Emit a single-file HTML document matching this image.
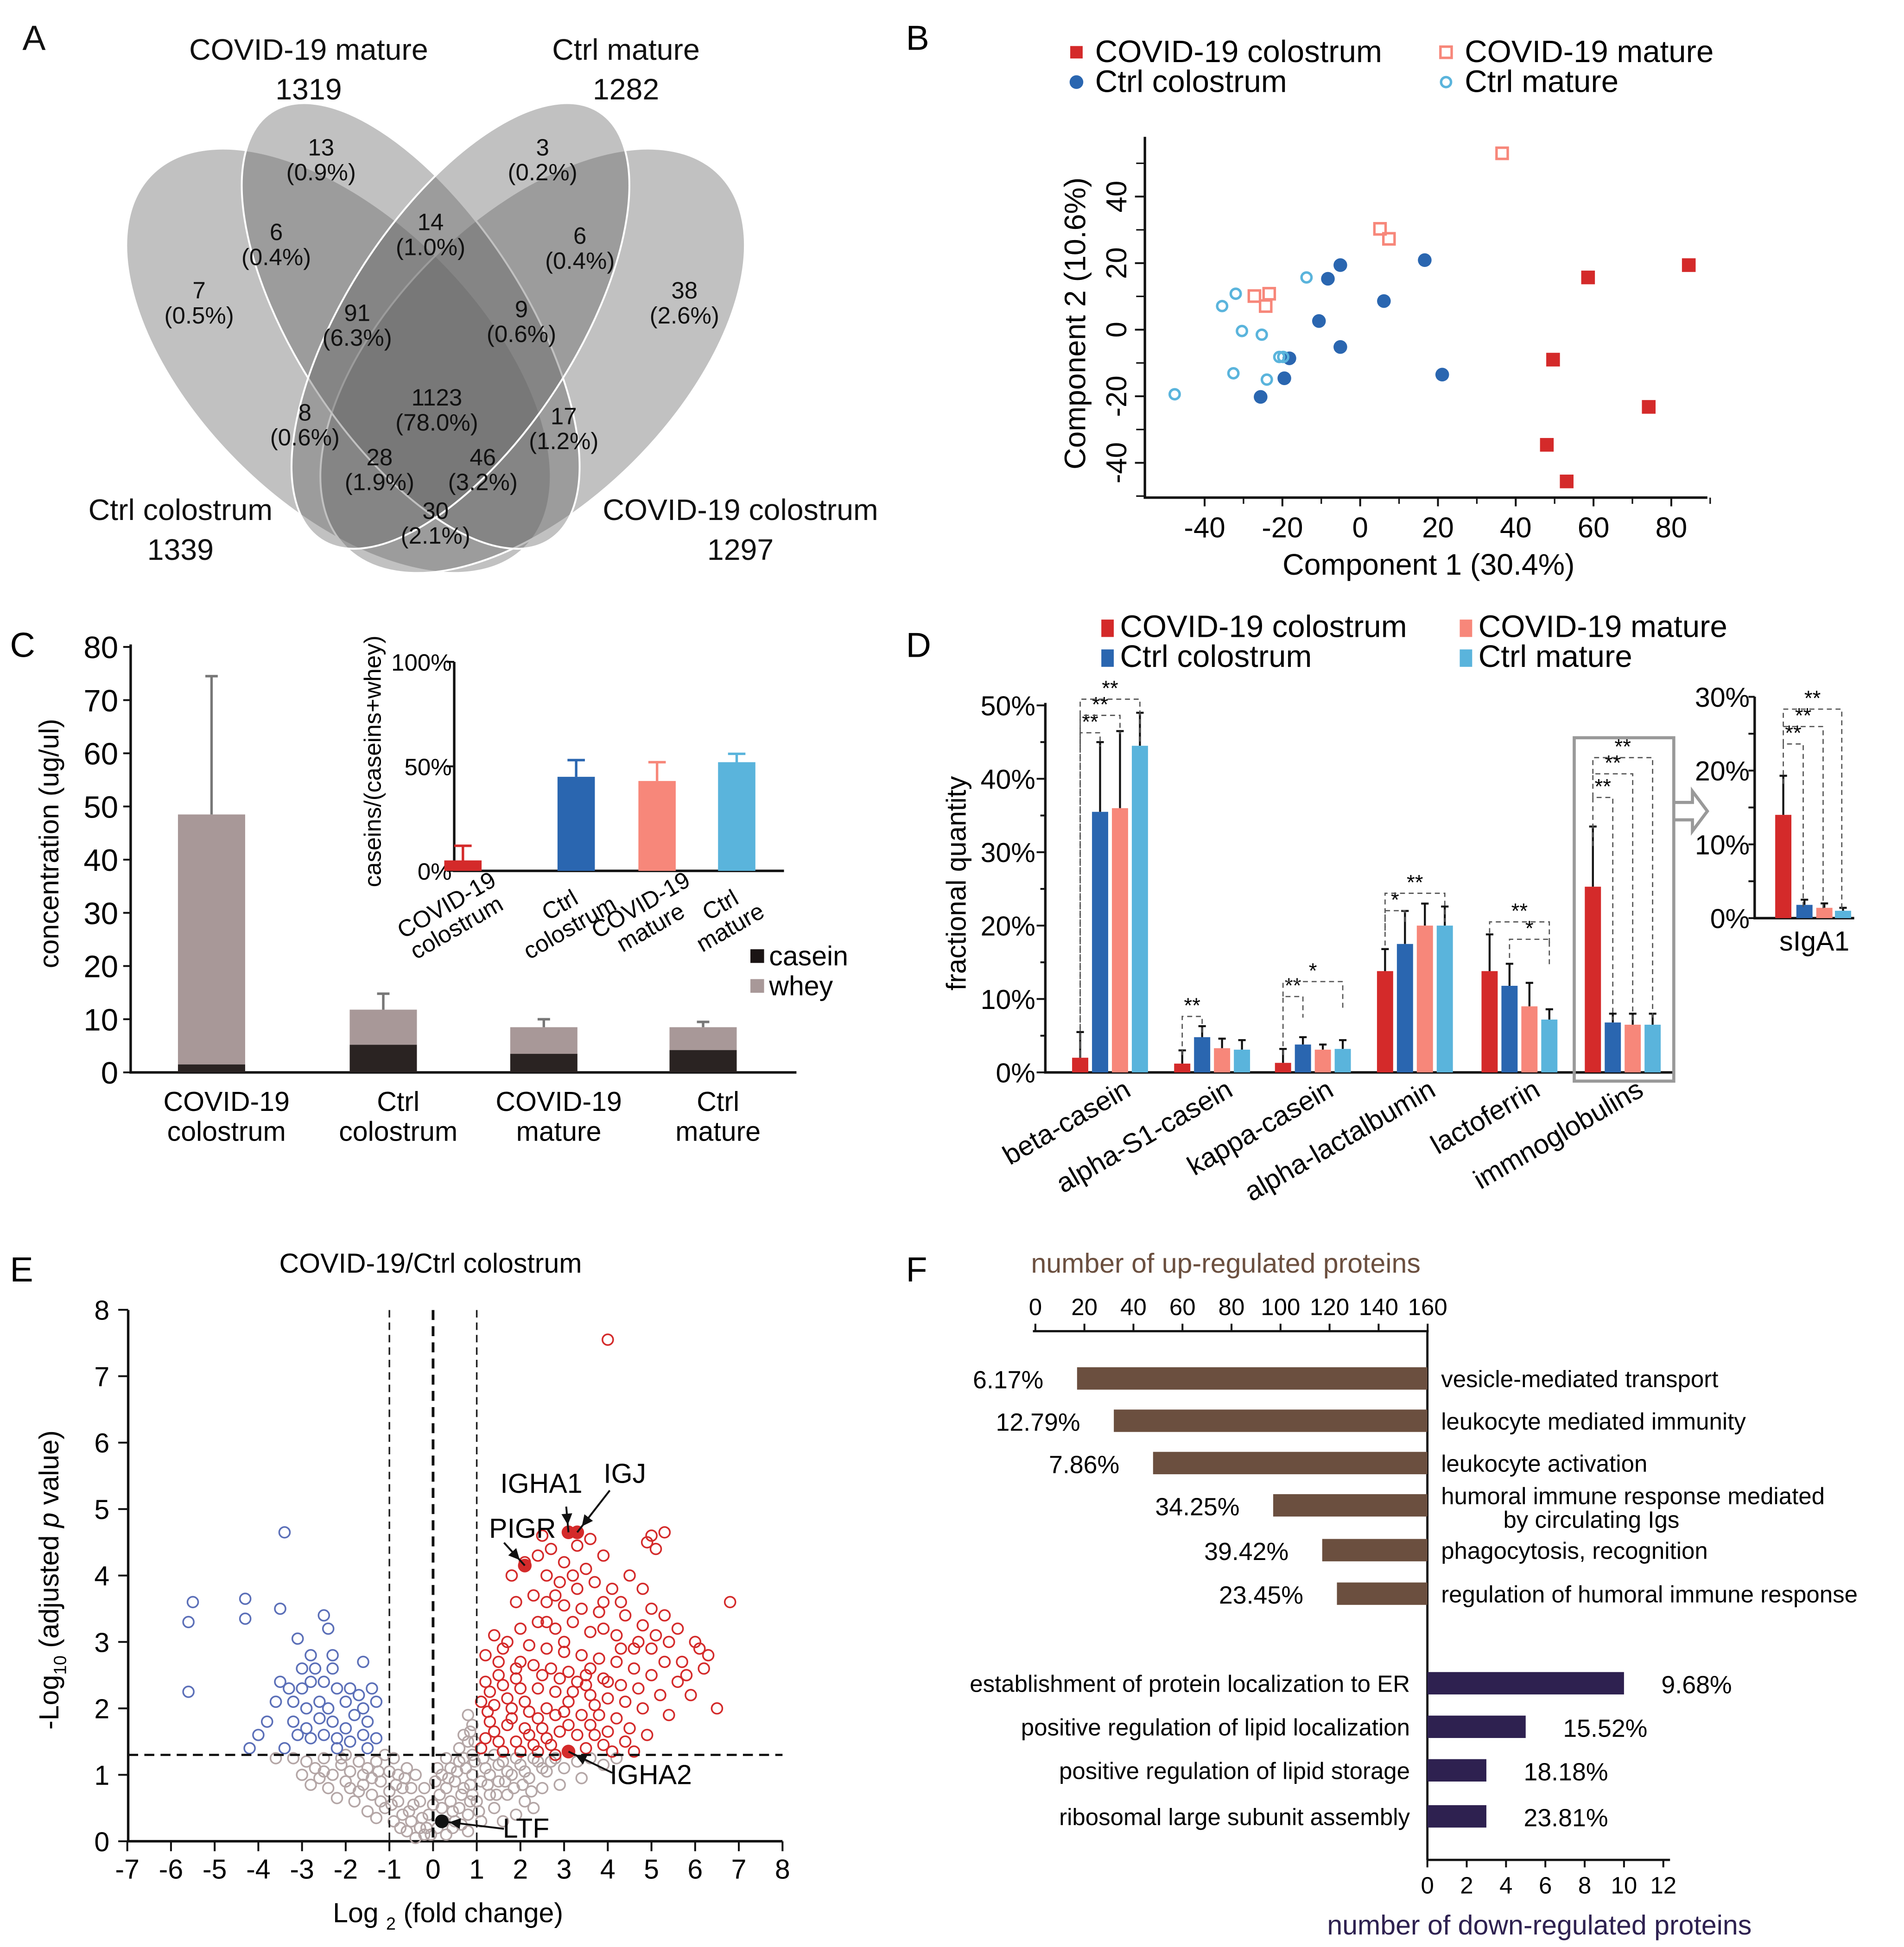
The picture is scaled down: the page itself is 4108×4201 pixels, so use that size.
<!DOCTYPE html>
<html><head><meta charset="utf-8">
<style>
html,body{margin:0;padding:0;background:#fff;}
svg{display:block;font-family:"Liberation Sans",Arial,sans-serif;}
</style></head>
<body>
<svg id="fig" width="4108" height="4201" viewBox="0 0 1530 1565" preserveAspectRatio="none">
<rect x="0" y="0" width="1530" height="1565" fill="#fff"/>
<!-- Panel A Venn -->
<g font-size="19" text-anchor="middle" fill="#111">
<text x="18" y="40" font-size="28" text-anchor="start">A</text>
<g fill="#646464" fill-opacity="0.4" stroke="#fff" stroke-width="1.5">
<ellipse cx="272" cy="290" rx="212" ry="115" transform="rotate(45 272 290)"/>
<ellipse cx="428" cy="290" rx="212" ry="115" transform="rotate(-45 428 290)"/>
<ellipse cx="330" cy="262" rx="205" ry="92" transform="rotate(57 330 262)"/>
<ellipse cx="370" cy="262" rx="205" ry="92" transform="rotate(-57 370 262)"/>
</g>
<g font-size="24">
<text x="248" y="48">COVID-19 mature</text><text x="248" y="80">1319</text>
<text x="503" y="48">Ctrl mature</text><text x="503" y="80">1282</text>
<text x="145" y="418">Ctrl colostrum</text><text x="145" y="450">1339</text>
<text x="595" y="418">COVID-19 colostrum</text><text x="595" y="450">1297</text>
</g>
<text x="258" y="125">13</text><text x="258" y="145">(0.9%)</text>
<text x="436" y="125">3</text><text x="436" y="145">(0.2%)</text>
<text x="222" y="193">6</text><text x="222" y="213">(0.4%)</text>
<text x="346" y="185">14</text><text x="346" y="205">(1.0%)</text>
<text x="466" y="196">6</text><text x="466" y="216">(0.4%)</text>
<text x="160" y="240">7</text><text x="160" y="260">(0.5%)</text>
<text x="287" y="258">91</text><text x="287" y="278">(6.3%)</text>
<text x="419" y="255">9</text><text x="419" y="275">(0.6%)</text>
<text x="550" y="240">38</text><text x="550" y="260">(2.6%)</text>
<text x="351" y="326">1123</text><text x="351" y="346">(78.0%)</text>
<text x="245" y="338">8</text><text x="245" y="358">(0.6%)</text>
<text x="453" y="341">17</text><text x="453" y="361">(1.2%)</text>
<text x="305" y="374">28</text><text x="305" y="394">(1.9%)</text>
<text x="388" y="374">46</text><text x="388" y="394">(3.2%)</text>
<text x="350" y="417">30</text><text x="350" y="437">(2.1%)</text>
</g>

<g id="panelB"></g>
<g id="panelC"></g>
<g id="panelD"></g>
<g id="panelE"></g>
<g id="panelF"></g>
</svg>
<script>
const NS=document.getElementById('fig').namespaceURI;
function mk(p,tag,a,txt){const e=document.createElementNS(NS,tag);for(const k in a)e.setAttribute(k,a[k]);if(txt!==undefined)e.textContent=txt;p.appendChild(e);return e;}
const RED='#d42a2a',BLUE='#2a66b0',SAL='#f7877a',LB='#5ab4dc';

// ---------- Panel B data ----------
const bCovidCol=[[84.5,19.4],[58.6,15.7],[49.6,-9],[74.2,-23.2],[48,-34.6],[53.1,-45.6]];
const bCovidMat=[[36.5,53],[5.1,30.3],[7.4,27.3],[-27.2,10.1],[-23.4,10.8],[-24.3,7.1]];
const bCtrlCol=[[16.6,20.9],[-5.1,19.4],[-8.3,15.3],[6.1,8.6],[-10.6,2.6],[-5.1,-5.2],[-18.2,-8.6],[-19.5,-14.6],[21.1,-13.5],[-25.6,-20.2]];
const bCtrlMat=[[-13.8,15.7],[-32,10.8],[-35.5,7.1],[-30.4,-0.4],[-25.3,-1.5],[-20.8,-8.2],[-19.8,-8.2],[-32.6,-13.1],[-24,-15],[-47.7,-19.4]];
const bXTicks=[-40,-20,0,20,40,60,80];
const bYTicks=[-40,-20,0,20,40];
{
const g=document.getElementById('panelB');
const X=v=>1093+v*3.125, Y=v=>265-v*2.675;
let t=mk(g,'text',{x:728,y:40,'font-size':28},'B');


let ax=mk(g,'path',{d:'M920 110 V400 H1372',stroke:'#111','stroke-width':2,fill:'none'});


bXTicks.forEach(v=>{mk(g,'line',{x1:X(v),x2:X(v),y1:400,y2:407,stroke:'#111','stroke-width':1.5});
const e=mk(g,'text',{x:X(v),y:432,'font-size':23,'text-anchor':'middle'},v);

});
for(let v=-50;v<=55;v+=10){if(v%20)mk(g,'line',{x1:913,x2:920,y1:Y(v),y2:Y(v),stroke:'#111','stroke-width':1.2});}
for(let v=-30;v<=90;v+=10){if(v%20)mk(g,'line',{x1:X(v),x2:X(v),y1:400,y2:405,stroke:'#111','stroke-width':1.2});}
bYTicks.forEach(v=>{mk(g,'line',{x1:912,x2:920,y1:Y(v),y2:Y(v),stroke:'#111','stroke-width':1.5});
const e=mk(g,'text',{x:0,y:0,'font-size':23,'text-anchor':'middle',transform:`translate(905 ${Y(v)}) rotate(-90)`},v);

});
let xl=mk(g,'text',{x:1148,y:462,'font-size':24,'text-anchor':'middle'},'Component 1 (30.4%)');


let yl=mk(g,'text',{x:0,y:0,'font-size':24,'text-anchor':'middle',transform:'translate(872 260) rotate(-90)'},'Component 2 (10.6%)');


bCovidCol.forEach(p=>{const e=mk(g,'rect',{x:X(p[0])-5.5,y:Y(p[1])-5.5,width:11,height:11,fill:RED});

});
bCovidMat.forEach(p=>{const e=mk(g,'rect',{x:X(p[0])-4.5,y:Y(p[1])-4.5,width:9,height:9,fill:'none',stroke:SAL,'stroke-width':2});

});
bCtrlCol.forEach(p=>{const e=mk(g,'circle',{cx:X(p[0]),cy:Y(p[1]),r:5.5,fill:BLUE});

});
bCtrlMat.forEach(p=>{const e=mk(g,'circle',{cx:X(p[0]),cy:Y(p[1]),r:4,fill:'none',stroke:LB,'stroke-width':2});

});
const leg=[[865,42,'sq',RED,'COVID-19 colostrum'],[1162,42,'osq',SAL,'COVID-19 mature'],[865,66,'c',BLUE,'Ctrl colostrum'],[1162,66,'oc',LB,'Ctrl mature']];
leg.forEach(l=>{let m;
if(l[2]==='sq')m=mk(g,'rect',{x:l[0]-5,y:l[1]-5,width:10,height:10,fill:l[3]});
else if(l[2]==='osq')m=mk(g,'rect',{x:l[0]-4.5,y:l[1]-4.5,width:9,height:9,fill:'none',stroke:l[3],'stroke-width':2});
else if(l[2]==='c')m=mk(g,'circle',{cx:l[0],cy:l[1],r:5.5,fill:l[3]});
else m=mk(g,'circle',{cx:l[0],cy:l[1],r:4,fill:'none',stroke:l[3],'stroke-width':2});
const e=mk(g,'text',{x:l[0]+15,y:l[1]+8,'font-size':25},l[4]);

});
}

// ---------- Panel C ----------
const cCats=[['COVID-19','colostrum'],['Ctrl','colostrum'],['COVID-19','mature'],['Ctrl','mature']];
const cCasein=[1.5,5.2,3.5,4.2];
const cTotal=[48.5,11.8,8.5,8.5];
const cErr=[74.5,14.8,10,9.5];
const cYTicks=[0,10,20,30,40,50,60,70,80];
const iVals=[5,45,43,52];
const iErr=[12,53,52,56];
const iTicks=[0,50,100];
const iColors=[RED,BLUE,SAL,LB];
{
const g=document.getElementById('panelC');
const Y=v=>862-v*4.275, cx=[170,308,437,565];
let t=mk(g,'text',{x:8,y:528,'font-size':28},'C');


mk(g,'path',{d:'M105 518 V862 H640',stroke:'#111','stroke-width':2,fill:'none'});
cYTicks.forEach(v=>{mk(g,'line',{x1:99,x2:105,y1:Y(v),y2:Y(v),stroke:'#111','stroke-width':1.5});
const e=mk(g,'text',{x:95,y:Y(v)+9,'font-size':25,'text-anchor':'end'},v);

});
let yl=mk(g,'text',{x:0,y:0,'font-size':22,'text-anchor':'middle',transform:'translate(47 678) rotate(-90)'},'concentration (ug/ul)');


cCats.forEach((c,i)=>{const x=cx[i];
mk(g,'line',{x1:x,x2:x,y1:Y(cTotal[i]),y2:Y(cErr[i]),stroke:'#777','stroke-width':2});
mk(g,'line',{x1:x-5,x2:x+5,y1:Y(cErr[i]),y2:Y(cErr[i]),stroke:'#777','stroke-width':2});
const w=mk(g,'rect',{x:x-27,y:Y(cTotal[i]),width:54,height:Y(cCasein[i])-Y(cTotal[i]),fill:'#a89898'});


const cs=mk(g,'rect',{x:x-27,y:Y(cCasein[i]),width:54,height:862-Y(cCasein[i]),fill:'#2a2322'});


const e1=mk(g,'text',{x:x+12,y:893,'font-size':22,'text-anchor':'middle'},c[0]);


mk(g,'text',{x:x+12,y:917,'font-size':22,'text-anchor':'middle'},c[1]);});
mk(g,'rect',{x:603,y:763,width:11,height:11,fill:'#1a1414'});
let l1=mk(g,'text',{x:618,y:776,'font-size':22},'casein');


mk(g,'rect',{x:603,y:787,width:11,height:11,fill:'#a89898'});
let l2=mk(g,'text',{x:618,y:800,'font-size':22},'whey');


// inset
const IY=v=>700-v*1.68, icx=[372,463,528,592];
mk(g,'path',{d:'M365 532 V700 H630',stroke:'#111','stroke-width':2,fill:'none'});
iTicks.forEach(v=>{mk(g,'line',{x1:359,x2:365,y1:IY(v),y2:IY(v),stroke:'#111','stroke-width':1.5});
const e=mk(g,'text',{x:363,y:IY(v)+7,'font-size':19,'text-anchor':'end'},v+'%');

});
let il=mk(g,'text',{x:0,y:0,'font-size':19,'text-anchor':'middle',transform:'translate(306 612) rotate(-90)'},'caseins/(caseins+whey)');


iVals.forEach((v,i)=>{const x=icx[i];
mk(g,'line',{x1:x,x2:x,y1:IY(v),y2:IY(iErr[i]),stroke:iColors[i],'stroke-width':2});
mk(g,'line',{x1:x-7,x2:x+7,y1:IY(iErr[i]),y2:IY(iErr[i]),stroke:iColors[i],'stroke-width':2});
const r=mk(g,'rect',{x:x-15,y:IY(v),width:30,height:700-IY(v),fill:iColors[i]});


const e=mk(g,'text',{x:0,y:0,'font-size':19,'text-anchor':'middle',transform:`translate(${x-10} 733) rotate(-30)`},cCats[i][0]);


mk(g,'text',{x:0,y:0,'font-size':19,'text-anchor':'middle',transform:`translate(${x-2} 751) rotate(-30)`},cCats[i][1]);});
}

// ---------- Panel D ----------
const dCats=['beta-casein','alpha-S1-casein','kappa-casein','alpha-lactalbumin','lactoferrin','immnoglobulins'];
const dCovidCol=[2,1.2,1.3,13.8,13.8,25.3];
const dCtrlCol=[35.5,4.8,3.8,17.5,11.8,6.8];
const dCovidMat=[36,3.3,3.1,20,9,6.5];
const dCtrlMat=[44.5,3.1,3.2,20,7.2,6.5];
const dErrCovidCol=[5.5,3,3.2,16.8,18.8,33.5];
const dErrCtrlCol=[45,6.3,4.8,22,14.8,8];
const dErrCovidMat=[46.5,4.6,3.8,23,12.2,8];
const dErrCtrlMat=[49,4.4,4.4,22.6,8.6,8];
const dYTicks=[0,10,20,30,40,50];
const sVals=[14,1.8,1.4,1];
const sErr=[19.3,2.5,2,1.4];
const sTicks=[0,10,20,30];
{
const g=document.getElementById('panelD');
const Y=v=>862-v*5.9, gc=[892,974,1055,1137,1221,1304];
let t=mk(g,'text',{x:728,y:528,'font-size':28},'D');


mk(g,'path',{d:'M840 565 V862 H1345',stroke:'#111','stroke-width':2,fill:'none'});
for(let v=0;v<=50;v+=5)mk(g,'line',{x1:v%10?836:833,x2:840,y1:Y(v),y2:Y(v),stroke:'#111','stroke-width':1.5});
dYTicks.forEach(v=>{const e=mk(g,'text',{x:832,y:Y(v)+8,'font-size':22,'text-anchor':'end'},v+'%');

});
let yl=mk(g,'text',{x:0,y:0,'font-size':22,'text-anchor':'middle',transform:'translate(776 710) rotate(-90)'},'fractional quantity');


const ser=[[dCovidCol,dErrCovidCol,RED],[dCtrlCol,dErrCtrlCol,BLUE],[dCovidMat,dErrCovidMat,SAL],[dCtrlMat,dErrCtrlMat,LB]];
dCats.forEach((c,i)=>{
ser.forEach((s,j)=>{const x=gc[i]+(j-1.5)*16;
mk(g,'line',{x1:x,x2:x,y1:Y(s[0][i]),y2:Y(s[1][i]),stroke:'#111','stroke-width':1.6});
mk(g,'line',{x1:x-3,x2:x+3,y1:Y(s[1][i]),y2:Y(s[1][i]),stroke:'#111','stroke-width':1.6});
const r=mk(g,'rect',{x:x-6.5,y:Y(s[0][i]),width:13,height:862-Y(s[0][i]),fill:s[2]});

});
const e=mk(g,'text',{x:0,y:0,'font-size':22,'text-anchor':'end',transform:`translate(${gc[i]+18} 880) rotate(-30)`},c);

});
const br=(x1,x2,y,yb1,yb2,lab)=>{mk(g,'path',{d:`M${x1} ${yb1} V${y} H${x2} V${yb2}`,fill:'none',stroke:'#555','stroke-width':1,'stroke-dasharray':'4 3'});
mk(g,'text',{x:(x1+x2)/2,y:y-3,'font-size':17,'text-anchor':'middle'},lab);};
br(868,884,589,850,600,'**');br(868,900,575,600,590,'**');br(868,916,562,848,597,'**');
br(950,966,817,848,832,'**');
br(1031,1047,801,848,818,'**');br(1031,1079,789,801,810,'*');
br(1113,1129,732,760,744,'*');br(1113,1161,718,748,741,'**');
br(1197,1245,741,750,760,'**');br(1213,1245,755,770,778,'*');
br(1280,1296,641,680,820,'**');br(1280,1312,622,641,820,'**');br(1280,1328,609,622,820,'**');
mk(g,'rect',{x:1265,y:593,width:80,height:276,fill:'none',stroke:'#999','stroke-width':2.5});
mk(g,'path',{d:'M1345 645 H1360 V636 L1372 652 L1360 668 V659 H1345',fill:'none',stroke:'#999','stroke-width':2.5});
const SY=v=>738-v*5.93, sx=[1433,1450,1466,1481];
mk(g,'path',{d:'M1410 560 V738 H1490',stroke:'#111','stroke-width':2,fill:'none'});
for(let v=0;v<=30;v+=5)mk(g,'line',{x1:1405,x2:1410,y1:SY(v),y2:SY(v),stroke:'#111','stroke-width':1.5});
sTicks.forEach(v=>{const e=mk(g,'text',{x:1406,y:SY(v)+8,'font-size':22,'text-anchor':'end'},v+'%');

});
sVals.forEach((v,i)=>{const x=sx[i];
mk(g,'line',{x1:x,x2:x,y1:SY(v),y2:SY(sErr[i]),stroke:'#111','stroke-width':1.6});
mk(g,'line',{x1:x-3,x2:x+3,y1:SY(sErr[i]),y2:SY(sErr[i]),stroke:'#111','stroke-width':1.6});
const r=mk(g,'rect',{x:x-6.5,y:SY(v),width:13,height:738-SY(v),fill:ser[i][2]});

});
br(1433,1449,598,630,730,'**');br(1433,1465,584,598,730,'**');br(1433,1480,570,584,730,'**');
let sl=mk(g,'text',{x:1458,y:764,'font-size':22,'text-anchor':'middle'},'sIgA1');


const leg=[[890,RED,'COVID-19 colostrum',503],[1178,SAL,'COVID-19 mature',503],[890,BLUE,'Ctrl colostrum',527],[1178,LB,'Ctrl mature',527]];
leg.forEach(l=>{mk(g,'rect',{x:l[0]-5,y:l[3]-5,width:10,height:14,fill:l[1]});
const e=mk(g,'text',{x:l[0]+10,y:l[3]+9,'font-size':25},l[2]);

});
}

// ---------- Panel E ----------
const eDown=[[-3.4,4.65],[-5.5,3.6],[-4.3,3.65],[-5.6,3.3],[-4.3,3.35],[-3.5,3.5],[-2.5,3.4],[-2.4,3.2],[-5.6,2.25],[-3.1,3.05],[-2.8,2.8],[-2.3,2.8],[-3,2.6],[-2.7,2.6],[-2.3,2.6],[-1.6,2.7],[-3.5,2.4],[-3.3,2.3],[-3,2.3],[-2.8,2.4],[-2.5,2.4],[-2.2,2.3],[-1.9,2.3],[-1.7,2.2],[-1.4,2.3],[-3.6,2.1],[-3.2,2.1],[-2.9,2.0],[-2.6,2.1],[-2.4,2.0],[-2,2.1],[-1.6,2],[-1.3,2.1],[-3.8,1.8],[-4.0,1.6],[-3.2,1.8],[-2.9,1.7],[-2.6,1.85],[-2.3,1.8],[-2,1.7],[-1.8,1.9],[-1.5,1.8],[-3.1,1.6],[-2.8,1.55],[-2.5,1.6],[-2.2,1.55],[-1.9,1.5],[-1.6,1.6],[-1.3,1.55],[-4.2,1.4],[-3.4,1.4],[-2.2,1.4],[-1.5,1.4]];
const eNs=[[-3.2,1.25],[-2.9,1.2],[-2.7,1.1],[-2.5,1.25],[-2.3,1.0],[-2.1,1.15],[-1.9,1.05],[-1.7,1.2],[-1.5,1.1],[-1.3,1.2],[-2.8,0.85],[-2.4,0.8],[-2,0.9],[-1.6,0.85],[-1.2,0.9],[-2.2,0.65],[-1.8,0.6],[-1.4,0.7],[-1.0,0.75],[-0.8,0.6],[-1.5,0.45],[-1.1,0.5],[-0.7,0.4],[-0.5,0.3],[-0.9,0.3],[-0.3,0.2],[-0.6,0.15],[-0.2,0.1],[-0.4,0.05],[-1.3,0.35],[-0.8,1.0],[-0.5,0.8],[-0.3,0.6],[-0.1,0.4],[-1.1,1.3],[-0.9,1.25],[-0.6,1.1],[-3.0,1.0],[-2.6,0.95],[-3.6,1.25],[-1.4,0.95],[-2.0,1.3],[-0.4,1.0],[-0.2,0.8],[-0.7,0.8],[-1.7,0.75],[0.1,0.2],[0.3,0.1],[0.5,0.3],[0.2,0.5],[0.4,0.6],[0.6,0.5],[0.8,0.4],[1.0,0.6],[0.7,0.8],[0.5,0.9],[0.3,0.8],[0.9,1.0],[1.1,0.9],[1.3,0.7],[1.5,0.9],[1.2,1.1],[1.6,1.2],[1.8,1.0],[2.0,1.15],[2.2,0.95],[2.4,1.2],[2.6,1.05],[2.8,1.25],[3.0,1.1],[3.3,1.2],[3.6,1.25],[3.9,1.15],[4.2,1.25],[1.4,0.5],[1.7,0.7],[2.1,0.6],[2.5,0.8],[1.9,0.4],[1.1,0.3],[0.8,0.15],[0.6,1.2],[0.9,1.3],[1.4,1.3],[0.4,1.1],[0.2,1.0],[0.7,1.6],[0.8,1.9],[0.9,1.75],[0.95,1.5],[0.6,1.4],[1.6,0.3],[2.3,0.5],[2.9,0.85],[3.4,0.95],[0.15,0.7],[0.05,0.9],
[-1.0,1.05],[-0.85,0.85],[-0.65,0.95],[-0.45,0.55],[-0.25,0.35],[-0.15,0.2],[-0.55,0.45],[-0.75,0.2],[-1.2,0.6],[-1.6,1.0],[-1.9,0.8],[-2.5,1.05],[-2.1,1.25],[-1.25,1.05],[-0.95,0.55],[-0.05,0.1],[0.0,0.55],[0.25,0.3],[0.45,0.45],[0.65,0.7],[0.85,0.6],[0.35,0.95],[0.55,1.05],[0.75,1.1],[0.95,1.2],[1.15,1.25],[1.3,1.0],[1.5,1.15],[1.7,1.05],[1.9,1.25],[2.1,1.05],[2.3,1.25],[2.5,1.1],[2.7,1.2],[1.25,0.85],[1.45,0.7],[1.65,0.9],[1.85,0.8],[2.05,0.85],[2.25,0.75],[0.45,0.2],[0.65,0.25],[0.85,0.85],[1.05,0.45],[0.8,1.5],[0.85,1.65],[0.7,1.25],[0.9,0.7],[0.3,1.25],[0.1,1.1]];
const eUp=[[4.0,7.55],[5.3,4.65],[5.0,4.6],[4.9,4.5],[5.1,4.4],[3.6,4.55],[3.3,4.45],[2.7,4.4],[2.4,4.3],[3.0,4.2],[3.5,4.1],[2.6,4.0],[2.9,3.9],[3.3,3.8],[3.7,3.9],[4.3,3.6],[1.9,3.6],[2.3,3.7],[2.6,3.6],[3.0,3.55],[3.4,3.5],[3.8,3.45],[4.4,3.4],[5.3,3.4],[5.0,3.5],[4.8,3.25],[5.6,3.2],[6.1,2.9],[6.3,2.8],[6.8,3.6],[6.5,2.0],[5.9,2.2],[5.6,2.4],[5.3,2.7],[5.0,2.9],[4.7,3.0],[4.2,3.1],[3.9,3.2],[3.6,3.15],[3.2,3.3],[2.8,3.2],[2.4,3.3],[2.0,3.2],[1.7,3.0],[2.2,2.95],[2.6,2.9],[3.0,2.85],[3.4,2.8],[3.8,2.75],[4.2,2.7],[4.6,2.6],[5.0,2.5],[1.5,2.7],[1.9,2.6],[2.3,2.65],[2.7,2.6],[3.1,2.55],[3.5,2.5],[3.9,2.45],[4.3,2.35],[4.7,2.3],[5.2,2.2],[1.2,2.4],[1.6,2.35],[2.0,2.3],[2.4,2.3],[2.8,2.25],[3.2,2.25],[3.6,2.2],[4.0,2.15],[4.4,2.1],[4.8,2.0],[1.1,2.1],[1.4,2.05],[1.8,2.0],[2.2,1.95],[2.6,2.0],[3.0,1.95],[3.4,1.9],[3.8,1.9],[4.2,1.85],[1.3,1.8],[1.7,1.75],[2.1,1.7],[2.5,1.7],[2.9,1.65],[3.3,1.6],[3.7,1.6],[4.5,1.7],[1.2,1.55],[1.5,1.5],[1.9,1.5],[2.3,1.45],[2.7,1.45],[3.5,1.4],[3.9,1.45],[4.1,1.35],[1.1,1.4],[1.6,1.35],[2.0,1.35],[2.4,1.35],[2.8,1.3],[4.6,1.35],[4.9,1.6],[5.4,1.9],[5.7,2.7],[6.0,3.0],[4.5,4.0],[4.1,3.8],[2.1,4.2],[2.5,4.6],[3.9,4.3],[1.4,3.1],[1.2,2.8],[1.8,4.0],[4.6,2.9],[5.4,3.0],[3.6,2.6],[2.0,2.7],[2.6,3.3],[3.0,3.0],[3.3,2.4],[4.0,2.4],[4.3,2.9],[5.8,2.5],[6.2,2.6],[1.6,2.9],[2.8,3.7],[3.2,4.0],[3.9,3.6],[4.8,3.8],[5.1,3.1],
[1.3,2.25],[1.5,2.5],[1.7,2.15],[1.9,2.45],[2.1,2.1],[2.5,2.5],[2.9,2.45],[3.1,2.1],[3.5,2.35],[3.7,2.05],[2.2,1.6],[2.6,1.55],[3.1,1.75],[1.4,1.65],[1.8,1.85],[2.4,1.85],[2.8,1.9],[3.6,1.75],[4.0,1.65],[4.4,1.5],[1.25,1.95]];
const eHighlight=[['IGHA1',3.1,4.65],['IGJ',3.3,4.65],['PIGR',2.1,4.15],['IGHA2',3.1,1.35],['LTF',0.2,0.3]];
const eXTicks=[-7,-6,-5,-4,-3,-2,-1,0,1,2,3,4,5,6,7,8];
const eYTicks=[0,1,2,3,4,5,6,7,8];
{
const g=document.getElementById('panelE');
const X=v=>348+v*35.1, Y=v=>1480-v*53.4;
let t=mk(g,'text',{x:8,y:1030,'font-size':28},'E');


let tt=mk(g,'text',{x:346,y:1023,'font-size':22,'text-anchor':'middle'},'COVID-19/Ctrl colostrum');


mk(g,'path',{d:`M103 1053 V1480 H${X(8)}`,stroke:'#111','stroke-width':2,fill:'none'});
eXTicks.forEach(v=>{mk(g,'line',{x1:X(v),x2:X(v),y1:1480,y2:1488,stroke:'#111','stroke-width':1.5});
const e=mk(g,'text',{x:X(v),y:1510,'font-size':22,'text-anchor':'middle'},v);

});
eYTicks.forEach(v=>{mk(g,'line',{x1:95,x2:103,y1:Y(v),y2:Y(v),stroke:'#111','stroke-width':1.5});
const e=mk(g,'text',{x:88,y:Y(v)+8,'font-size':22,'text-anchor':'end'},v);

});
const yl=mk(g,'text',{x:0,y:0,'font-size':22,'text-anchor':'middle',transform:'translate(47 1270) rotate(-90)'});


yl.innerHTML='-Log<tspan font-size="14" dy="6">10</tspan><tspan dy="-6"> (adjusted </tspan><tspan font-style="italic">p</tspan> value)';
const xl=mk(g,'text',{x:360,y:1545,'font-size':22,'text-anchor':'middle'});


xl.innerHTML='Log <tspan font-size="14" dy="6">2</tspan><tspan dy="-6"> (fold change)</tspan>';
eNs.forEach(p=>{const c=mk(g,'circle',{cx:X(p[0]),cy:Y(p[1]),r:4.3,fill:'none',stroke:'#b4a6a6','stroke-width':1.3});

});
eDown.forEach(p=>{const c=mk(g,'circle',{cx:X(p[0]),cy:Y(p[1]),r:4.3,fill:'none',stroke:'#5b6fb8','stroke-width':1.3});

});
eUp.forEach(p=>{const c=mk(g,'circle',{cx:X(p[0]),cy:Y(p[1]),r:4.3,fill:'none',stroke:'#d42a2a','stroke-width':1.3});

});
const dash={stroke:'#222','stroke-width':1.3,'stroke-dasharray':'6 4'};
mk(g,'line',Object.assign({x1:X(-1),x2:X(-1),y1:1053,y2:1480},dash));
mk(g,'line',Object.assign({x1:X(1),x2:X(1),y1:1053,y2:1480},dash));
mk(g,'line',{x1:X(0),x2:X(0),y1:1053,y2:1480,stroke:'#111','stroke-width':2.2,'stroke-dasharray':'8 5'});
mk(g,'line',{x1:103,x2:X(8),y1:Y(1.3),y2:Y(1.3),stroke:'#111','stroke-width':1.8,'stroke-dasharray':'8 5'});
const lab={IGHA1:[402,1200,'start'],IGJ:[485,1192,'start'],PIGR:[393,1236,'start'],IGHA2:[490,1434,'start'],LTF:[404,1477,'start']};
const tip={IGHA1:[455,1211],IGJ:[490,1198],PIGR:[405,1240],IGHA2:[492,1425],LTF:[405,1470]};
eHighlight.forEach(h=>{const x=X(h[1]),y=Y(h[2]);
const c=mk(g,'circle',{cx:x,cy:y,r:5.5,fill:h[0]==='LTF'?'#111':'#d42a2a'});


const tp=tip[h[0]];
mk(g,'line',{x1:x,y1:y,x2:tp[0],y2:tp[1],stroke:'#111','stroke-width':1.5});
const ang=Math.atan2(y-tp[1],x-tp[0]);
const ax=x-Math.cos(ang)*6,ay=y-Math.sin(ang)*6;
const a1=ang+0.45,a2=ang-0.45;
mk(g,'path',{d:`M${ax} ${ay} L${ax-Math.cos(a1)*10} ${ay-Math.sin(a1)*10} L${ax-Math.cos(a2)*10} ${ay-Math.sin(a2)*10}Z`,fill:'#111'});
const L=lab[h[0]];
const e=mk(g,'text',{x:L[0],y:L[1],'font-size':22,'text-anchor':L[2]},h[0]);

});
}

// ---------- Panel F ----------
const fUpTerms=['vesicle-mediated transport','leukocyte mediated immunity','leukocyte activation','humoral immune response mediated','phagocytosis, recognition','regulation of humoral immune response'];
const fUpVals=[17,32,48,97,117,123];
const fUpPct=['6.17%','12.79%','7.86%','34.25%','39.42%','23.45%'];
const fDownTerms=['establishment of protein localization to ER','positive regulation of lipid localization','positive regulation of lipid storage','ribosomal large subunit assembly'];
const fDownVals=[10,5,3,3];
const fDownPct=['9.68%','15.52%','18.18%','23.81%'];
const fUpTicks=[0,20,40,60,80,100,120,140,160];
const fDownTicks=[0,2,4,6,8,10,12];
{
const g=document.getElementById('panelF');
const UX=v=>832+v*1.97, DX=v=>1147+v*15.8;
const uy=[1108,1142,1176,1210,1246,1281], dy=[1353,1388,1423,1460];
let t=mk(g,'text',{x:728,y:1030,'font-size':28},'F');


let tt=mk(g,'text',{x:985,y:1023,'font-size':22,'text-anchor':'middle',fill:'#6b4f3f'},'number of up-regulated proteins');


mk(g,'line',{x1:830,x2:1148,y1:1070,y2:1070,stroke:'#111','stroke-width':1.8});
fUpTicks.forEach(v=>{mk(g,'line',{x1:UX(v),x2:UX(v),y1:1064,y2:1070,stroke:'#111','stroke-width':1.5});
const e=mk(g,'text',{x:UX(v),y:1057,'font-size':19,'text-anchor':'middle'},v);

});
mk(g,'line',{x1:1147,x2:1147,y1:1070,y2:1495,stroke:'#111','stroke-width':1.8});
fUpTerms.forEach((s,i)=>{const r=mk(g,'rect',{x:UX(fUpVals[i]),y:uy[i]-9,width:1147-UX(fUpVals[i]),height:18,fill:'#6b4f3f'});


const p=mk(g,'text',{x:UX(fUpVals[i])-27,y:uy[i]+8,'font-size':20,'text-anchor':'end'},fUpPct[i]);


const e=mk(g,'text',{x:1158,y:i===3?uy[i]-1:uy[i]+7,'font-size':19},s);

});
mk(g,'text',{x:1208,y:uy[3]+18,'font-size':19},'by circulating Igs');
mk(g,'line',{x1:1147,x2:1342,y1:1495,y2:1495,stroke:'#111','stroke-width':1.8});
fDownTicks.forEach(v=>{mk(g,'line',{x1:DX(v),x2:DX(v),y1:1495,y2:1501,stroke:'#111','stroke-width':1.5});
const e=mk(g,'text',{x:DX(v),y:1522,'font-size':19,'text-anchor':'middle'},v);

});
fDownTerms.forEach((s,i)=>{const r=mk(g,'rect',{x:1147,y:dy[i]-9,width:DX(fDownVals[i])-1147,height:18,fill:'#2e2150'});


const p=mk(g,'text',{x:DX(fDownVals[i])+30,y:dy[i]+8,'font-size':20},fDownPct[i]);


const e=mk(g,'text',{x:1133,y:dy[i]+7,'font-size':19,'text-anchor':'end'},s);

});
let bt=mk(g,'text',{x:1237,y:1555,'font-size':22,'text-anchor':'middle',fill:'#2e2150'},'number of down-regulated proteins');


}
</script>
</body></html>
